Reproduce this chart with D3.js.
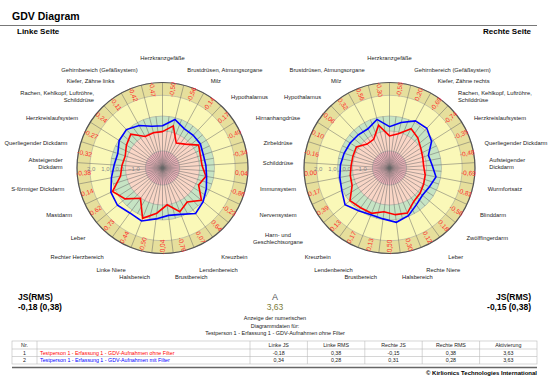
<!DOCTYPE html>
<html><head><meta charset="utf-8">
<script src="https://cdn.jsdelivr.net/npm/d3@7"></script>
<style>body{margin:0;background:#fff;}svg{display:block;font-family:"Liberation Sans",Arial,sans-serif;}</style>
</head><body><svg id="chart" width="550" height="383"></svg>
<script>
const categoriesLeft = ["Herzkranzgefäße","Brustdrüsen, Atmungsorgane","Milz","Hypothalamus","Hirnanhangdrüse","Zirbeldrüse","Schilddrüse","Immunsystem","Nervensystem","Harn- und|Geschlechtsorgane","Kreuzbein","Lendenbereich","Brustbereich","Halsbereich","Linke Niere","Rechter Herzbereich","Leber","Mastdarm","S-förmiger Dickdarm","Absteigender|Dickdarm","Querliegender Dickdarm","Herzkreislaufsystem","Rachen, Kehlkopf, Luftröhre,|Schilddrüse","Kiefer, Zähne links","Gehirnbereich (Gefäßsystem)"];
const categoriesRight = ["Herzkranzgefäße","Brustdrüsen, Atmungsorgane","Milz","Hypothalamus","Hirnanhangdrüse","Zirbeldrüse","Schilddrüse","Immunsystem","Nervensystem","Harn- und|Geschlechtsorgane","Kreuzbein","Lendenbereich","Brustbereich","Halsbereich","Rechte Niere","Leber","Zwölffingerdarm","Blinddarm","Wurmfortsatz","Aufsteigender|Dickdarm","Querliegender Dickdarm","Herzkreislaufsystem","Rachen, Kehlkopf, Luftröhre,|Schilddrüse","Kiefer, Zähne rechts","Gehirnbereich (Gefäßsystem)"];
const ringLabelsLeft = ["-0,50","-0,56","-0,14","0,17","-0,40","-0,34","0,04","-0,86","-0,23","0,64","0,07","-0,76","-0,04","-0,50","0,44","-0,73","0,62","0,14","-0,38","-0,32","-0,27","0,24","-0,11","-0,42","-0,47"];
const ringLabelsRight = ["-0,30","0,56","0,32","-0,06","0,10","-0,16","0,00","0,17","0,39","0,13","0,17","0,13","-0,50","0,30","0,12","0,18","-0,56","-0,81","-0,69","-0,48","-0,35","-0,74","-0,69","0,20","-0,58"];
const leftRed   = [-0.45,0.05,-1.0,-0.7,0.0,-0.2,-0.22,0.1,-0.2,0.55,-0.05,0.3,-0.4,0.2,0.8,-0.37,0.4,0.88,0.0,-0.15,-0.25,0.0,0.25,-0.48,-0.45];
const leftBlue  = [-0.03,0.51,0.15,0.15,0.15,0.01,0.05,0.15,0.4,0.7,0.95,0.5,0.35,0.6,1.0,0.9,1.1,1.0,0.65,0.4,0.3,0.6,0.7,0.4,0.02];
const rightRed  = [-0.75,0.1,-0.7,-0.7,-0.25,-0.3,-0.3,-0.2,-0.1,0.6,0.45,0.42,0.1,0.3,0.4,-0.1,-0.22,-0.35,-0.45,-0.6,-0.55,-0.4,-0.1,0.15,-0.52];
const rightBlue = [-0.1,0.52,0.14,0.2,0.27,0.35,0.45,0.55,0.7,1.05,0.7,0.53,0.6,0.84,0.6,0.2,0.0,0.1,0.32,0.0,-0.13,0.5,0.82,0.77,0.3];
const scaleTicks = [2,1,0,-1];
const tableHeader = ["Nr.","","Linke JS","Linke RMS","Rechte JS","Rechte RMS","Aktivierung"];
const tableRows = [
  ["1","Testperson 1 - Erfassung 1 - GDV-Aufnahmen ohne Filter","-0,18","0,38","-0,15","0,38","3,63"],
  ["2","Testperson 1 - Erfassung 1 - GDV-Aufnahmen mit Filter","0,34","0,28","0,31","0,28","3,63"]
];
const seriesColors = ["#ff0000","#0000ff"];

const svg = d3.select("#chart");
const N = 25;
const r = d3.scaleLinear().domain([-3,3]).range([0,85.5]);
const zones = [{v:3,c:"#e6df9c"},{v:2.1,c:"#faf8b8"},{v:0.65,c:"#c6e4c4"},{v:-0.4,c:"#f9d6c6"},{v:-1.8,c:"#efb4bb"}];
const gutterX = 278;

svg.append("text").attr("x",12).attr("y",20).attr("font-size",10.5).attr("font-weight","bold").text("GDV Diagram");
svg.append("line").attr("x1",0).attr("x2",537).attr("y1",25.5).attr("y2",25.5).attr("stroke","#777").attr("stroke-width",1);
svg.append("text").attr("x",17).attr("y",34).attr("font-size",8).attr("font-weight","bold").text("Linke Seite");
svg.append("text").attr("x",531).attr("y",34).attr("text-anchor","end").attr("font-size",8).attr("font-weight","bold").text("Rechte Seite");

function drawRadar(cx, cy, dir, cats, ringLabels, series, drawGutterLabels){
  const g = svg.append("g").attr("transform",`translate(${cx},${cy})`);
  const ang = i => dir*i*2*Math.PI/N;
  zones.forEach(z=>g.append("circle").attr("r",r(z.v)).attr("fill",z.c).attr("stroke","#999").attr("stroke-width",0.5));
  for(let i=0;i<N;i++){
    const a = ang(i);
    g.append("line").attr("x1",0).attr("y1",0).attr("x2",r(3)*Math.sin(a)).attr("y2",-r(3)*Math.cos(a)).attr("stroke","#666").attr("stroke-width",0.5);
    const a2 = ang(i+0.5);
    g.append("line").attr("x1",0).attr("y1",0).attr("x2",r(0.65)*Math.sin(a2)).attr("y2",-r(0.65)*Math.cos(a2)).attr("stroke","#666").attr("stroke-width",0.5);
  }
  g.append("circle").attr("r",r(3)).attr("fill","none").attr("stroke","#555").attr("stroke-width",1.2);
  ringLabels.forEach((t,i)=>{
    const a = ang(i+0.5);
    const rr = (r(3)+r(2.1))/2;
    const x = rr*Math.sin(a), y = -rr*Math.cos(a);
    let deg = a*180/Math.PI; deg = ((deg%360)+360)%360;
    let rot = deg<180 ? deg-90 : deg+90;
    g.append("text").attr("transform",`translate(${x},${y}) rotate(${rot})`).attr("text-anchor","middle").attr("dy","0.35em").attr("font-size",6.5).attr("fill","#ff2a2a").text(t);
  });
  scaleTicks.forEach(v=>g.append("text").attr("x",-r(v)).attr("y",2.5).attr("text-anchor","middle").attr("font-size",6).attr("fill","#888").text(d3.format(".1f")(v).replace(".",",")));
  const line = d3.lineRadial().angle((d,i)=>ang(i)).radius(d=>r(d)).curve(d3.curveLinearClosed);
  series.forEach((s,k)=>g.append("path").attr("d",line(s)).attr("fill","none").attr("stroke",seriesColors[k]).attr("stroke-width",1.6).attr("stroke-linejoin","miter"));
  cats.forEach((t,i)=>{
    const a = ang(i);
    const s = Math.sin(a), c = Math.cos(a);
    let x = 100*s, y = -110*c;
    if(c>0 && Math.abs(s)>0.05) y += 9*Math.min(1,c*4);
    let anchor = Math.abs(s)<0.05 ? "middle" : (s>0?"start":"end");
    if(i>=4 && i<=9){
      // labels facing the gutter coincide for both dials; draw them once
      if(!drawGutterLabels) return;
      anchor = "middle"; x = gutterX - cx;
    }
    const lines = t.split("|");
    const tx = g.append("text").attr("x",x).attr("y",y).attr("text-anchor",anchor).attr("font-size",5.8).attr("fill","#222");
    lines.forEach((l,j)=>tx.append("tspan").attr("x",x).attr("y",y+2+(j-(lines.length-1)/2)*7).text(l));
  });
}
drawRadar(162.5,168,1,categoriesLeft,ringLabelsLeft,[leftRed,leftBlue],true);
drawRadar(389.5,168,-1,categoriesRight,ringLabelsRight,[rightRed,rightBlue],false);

function summary(x, anchor, val){
  svg.append("text").attr("x",x).attr("y",300).attr("text-anchor",anchor).attr("font-size",8.5).attr("font-weight","bold").text("JS(RMS)");
  svg.append("text").attr("x",x).attr("y",310).attr("text-anchor",anchor).attr("font-size",8.5).attr("font-weight","bold").text(val);
}
summary(18,"start","-0,18 (0,38)");
summary(531,"end","-0,15 (0,38)");
svg.append("text").attr("x",275).attr("y",300).attr("text-anchor","middle").attr("font-size",9).attr("fill","#555").text("A");
svg.append("text").attr("x",275).attr("y",310).attr("text-anchor","middle").attr("font-size",8.5).attr("fill","#7d7d3a").text("3,63");
["Anzeige der numerischen","Diagrammdaten für:","Testperson 1 - Erfassung 1 - GDV-Aufnahmen ohne Filter"].forEach((t,i)=>
  svg.append("text").attr("x",275).attr("y",320+i*7.5).attr("text-anchor","middle").attr("font-size",5.5).attr("fill","#222").text(t));

const colX = [12,37,250,307.4,364.8,422.2,479.6,537];
const rowY = [341,349,356.5,364];
const tg = svg.append("g");
tg.append("rect").attr("x",colX[0]).attr("y",rowY[0]).attr("width",colX[7]-colX[0]).attr("height",rowY[3]-rowY[0]).attr("fill","#fff").attr("stroke","#bbb").attr("stroke-width",0.6);
rowY.slice(1,3).forEach(y=>tg.append("line").attr("x1",colX[0]).attr("x2",colX[7]).attr("y1",y).attr("y2",y).attr("stroke","#bbb").attr("stroke-width",0.6));
colX.slice(1,7).forEach(x=>tg.append("line").attr("x1",x).attr("x2",x).attr("y1",rowY[0]).attr("y2",rowY[3]).attr("stroke","#bbb").attr("stroke-width",0.6));
[tableHeader,...tableRows].forEach((row,ri)=>{
  row.forEach((t,ci)=>{
    const isName = ci===1;
    const x = isName ? colX[1]+3 : (colX[ci]+colX[ci+1])/2;
    tg.append("text").attr("x",x).attr("y",(rowY[ri]+rowY[ri+1])/2+2).attr("text-anchor",isName?"start":"middle")
      .attr("font-size",5.3).attr("fill", (isName && ri>0) ? seriesColors[ri-1] : "#222").text(t);
  });
});
svg.append("line").attr("x1",12).attr("x2",537).attr("y1",367.5).attr("y2",367.5).attr("stroke","#666").attr("stroke-width",1.3);
svg.append("text").attr("x",537).attr("y",375).attr("text-anchor","end").attr("font-size",6).attr("font-weight","bold").text("© Kirlionics Technologies International");
</script></body></html>
